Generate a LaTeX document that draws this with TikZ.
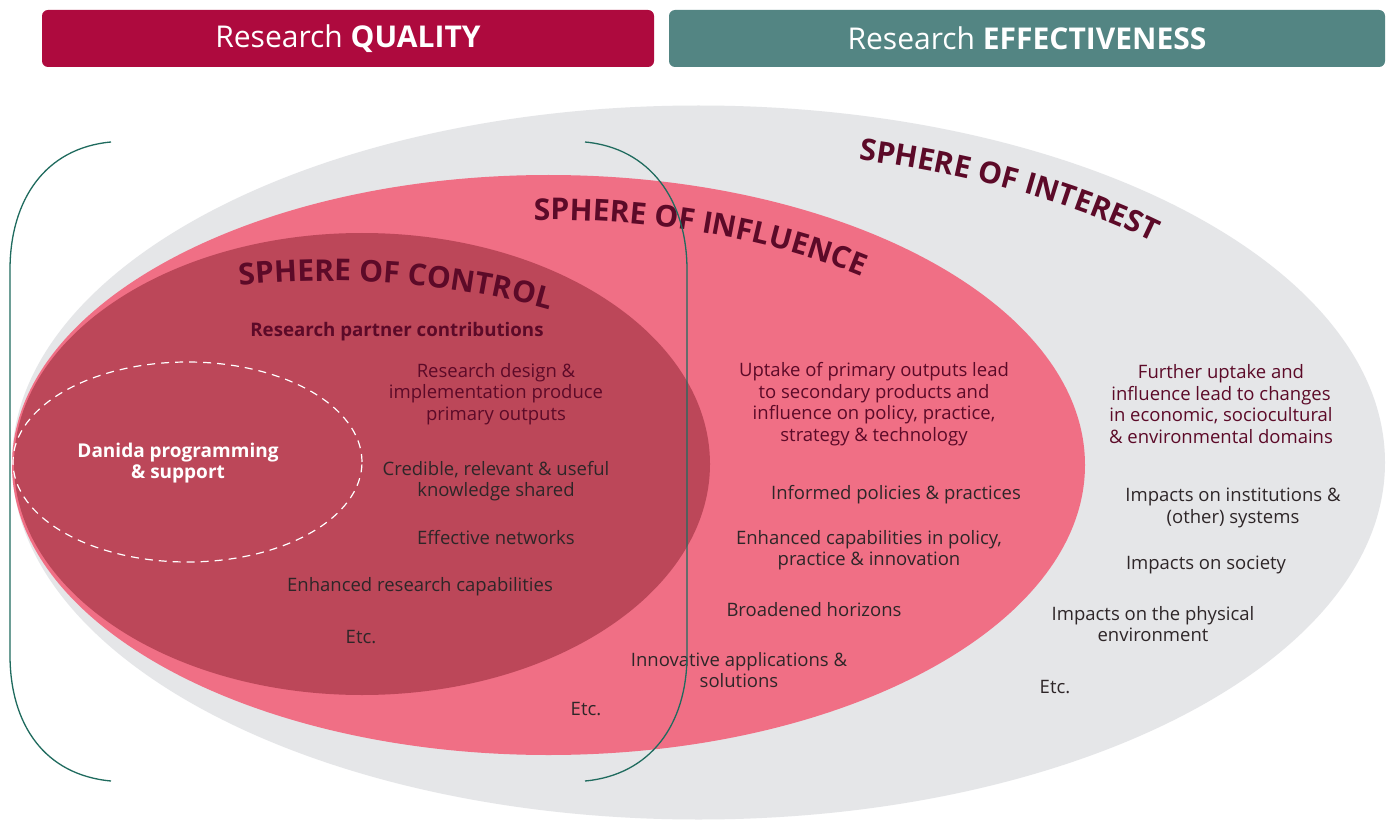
\documentclass[tikz,border=0pt]{standalone}
\usepackage{fontspec}
\setmainfont{Open Sans}
\usetikzlibrary{decorations.text}
\definecolor{hdrred}{HTML}{AE0A3E}
\definecolor{hdrteal}{HTML}{538583}
\definecolor{sgray}{HTML}{E5E6E8}
\definecolor{spink}{HTML}{F06F85}
\definecolor{sdark}{HTML}{BC4759}
\definecolor{dmaroon}{HTML}{5C0A28}
\definecolor{txtdark}{HTML}{2E2628}
\definecolor{brk}{HTML}{1F6B5E}
\newcommand{\sphfont}{\fontsize{30}{30}\selectfont\bfseries}
\tikzset{
  hdr/.style={rounded corners=6pt, text=white, inner sep=0pt, minimum height=57pt,
    font=\fontsize{30}{32}\selectfont},
  body/.style={align=center, inner sep=0pt, text=txtdark,
    font=\fontsize{18.5}{21.5}\selectfont},
  bodym/.style={body, text=dmaroon},
  bracket/.style={draw=brk, line width=1.3pt},
  sphtext/.style={decorate, decoration={text along path, text align=center,
    text color=dmaroon, text={|\sphfont|#1}}}
}
\begin{document}
\begin{tikzpicture}[x=1pt,y=-1pt]
\useasboundingbox (0,0) rectangle (1390,821);
\fill[white] (0,0) rectangle (1390,821);
% headers
\node[hdr, fill=hdrred, minimum width=612pt] (hq) at (348,38.5) {Research \textbf{QUALITY}};
\node[hdr, fill=hdrteal, minimum width=716pt] (he) at (1027,38.5) {Research \textbf{EFFECTIVENESS}};
% spheres
\fill[sgray] (698.5,462.5) ellipse[x radius=686.5pt, y radius=357pt];
\fill[spink] (548.5,465) ellipse[x radius=536.5pt, y radius=290pt];
\fill[sdark] (362,464) ellipse[x radius=348pt, y radius=231pt];
\draw[white, line width=1.2pt, dash pattern=on 8pt off 6pt] (187.5,462) ellipse[x radius=174.5pt, y radius=100pt];
% curved titles
\path[sphtext={SPHERE OF INTEREST}] (698.5,462) ++(87:641pt and 312pt)
  arc[start angle=87, end angle=29, x radius=641pt, y radius=312pt];
\path[sphtext={SPHERE OF INFLUENCE}] (548.5,465) ++(105:491pt and 245pt)
  arc[start angle=105, end angle=33, x radius=491pt, y radius=245pt];
\path[sphtext={SPHERE OF CONTROL}] (330,462) ++(119:404pt and 181pt)
  arc[start angle=119, end angle=38, x radius=404pt, y radius=181pt];
% control texts
\node[bodym, font=\fontsize{18.7}{21.5}\selectfont\bfseries] (rpc) at (397,332) {Research partner contributions};
\node[bodym] (rdi) at (496,394) {Research design \&\\implementation produce\\primary outputs};
\node[body] (crk) at (496,481) {Credible, relevant \& useful\\knowledge shared};
\node[body] (efn) at (496,538) {Effective networks};
\node[body] (erc) at (420,587) {Enhanced research capabilities};
\node[body] (etc1) at (361,637) {Etc.};
\node[body, text=white, font=\fontsize{19}{21.5}\selectfont\bfseries] (dan) at (178,463) {Danida programming\\\& support};
% influence texts
\node[bodym] (upt) at (874,404) {Uptake of primary outputs lead\\to secondary products and\\influence on policy, practice,\\strategy \& technology};
\node[body] (ipp) at (896,495) {Informed policies \& practices};
\node[body] (ecp) at (869,550) {Enhanced capabilities in policy,\\practice \& innovation};
\node[body] (brh) at (814,610) {Broadened horizons};
\node[body] (ias) at (739,670) {Innovative applications \&\\solutions};
\node[body] (etc2) at (586,709) {Etc.};
% interest texts
\node[bodym] (fut) at (1221,404) {Further uptake and\\influence lead to changes\\in economic, sociocultural\\\& environmental domains};
\node[body] (ios) at (1233,508) {Impacts on institutions \&\\(other) systems};
\node[body] (ios2) at (1206,565) {Impacts on society};
\node[body] (ipe) at (1153,624) {Impacts on the physical\\environment};
\node[body] (etc3) at (1055,687) {Etc.};
% brackets
\coordinate (lt) at (111,142); \coordinate (lb) at (111,781);
\coordinate (rt) at (585,142); \coordinate (rb) at (585,781);
\draw[bracket] (lt) .. controls (45,148) and (10,200) .. (10,270) -- (10,655)
  .. controls (10,725) and (45,775) .. (lb);
\draw[bracket] (rt) .. controls (650,148) and (687,200) .. (687,270) -- (687,655)
  .. controls (687,725) and (650,775) .. (rb);
\end{tikzpicture}
\end{document}
